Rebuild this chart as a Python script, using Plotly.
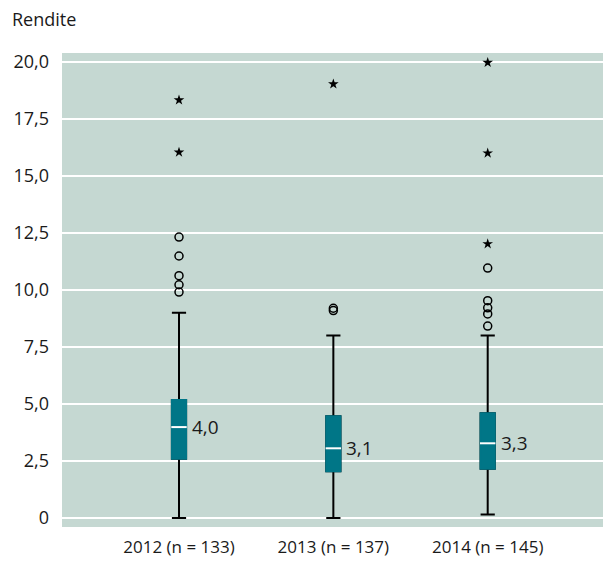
import plotly.graph_objects as go

categories = ["2012 (n = 133)", "2013 (n = 137)", "2014 (n = 145)"]
q1 = [2.60, 2.05, 2.16]
median = [3.99, 3.06, 3.28]
q3 = [5.18, 4.47, 4.60]
lower_whisker = [0.0, 0.0, 0.16]
upper_whisker = [9.0, 8.0, 8.0]

outliers = {
    "2012 (n = 133)": [12.32, 11.49, 10.63, 10.23, 9.91],
    "2013 (n = 137)": [9.10, 9.20],
    "2014 (n = 145)": [10.96, 9.53, 9.22, 8.95, 8.42],
}
extremes = {
    "2012 (n = 133)": [18.33, 16.04],
    "2013 (n = 137)": [19.03],
    "2014 (n = 145)": [19.97, 16.00, 12.02],
}

y_tickvals = [0, 2.5, 5, 7.5, 10, 12.5, 15, 17.5, 20]
y_ticktext = ["0", "2,5", "5,0", "7,5", "10,0", "12,5", "15,0", "17,5", "20,0"]

TEAL = "#007687"
BG = "#c5d8d2"
FONT = "Open Sans, sans-serif"

fig = go.Figure()

# whiskers (black) + box
fig.add_trace(go.Box(
    x=categories, q1=q1, median=median, q3=q3,
    lowerfence=lower_whisker, upperfence=upper_whisker,
    boxpoints=False, width=0.092, whiskerwidth=1,
    fillcolor=TEAL, line=dict(color="black", width=2),
    hoverinfo="skip", showlegend=False,
))
# teal box body covering black outline
fig.add_trace(go.Box(
    x=categories, q1=q1, median=median, q3=q3,
    lowerfence=q1, upperfence=q3,
    boxpoints=False, width=0.092, whiskerwidth=1,
    fillcolor=TEAL, line=dict(color=TEAL, width=2),
    hoverinfo="skip", showlegend=False,
))
# white median line
fig.add_trace(go.Scatter(
    x=categories, y=median, mode="markers",
    marker=dict(symbol="line-ew", size=11, line=dict(color="white", width=2)),
    hoverinfo="skip", showlegend=False,
))

ox, oy, ex, ey = [], [], [], []
for c in categories:
    for v in outliers[c]:
        ox.append(c); oy.append(v)
    for v in extremes[c]:
        ex.append(c); ey.append(v)

fig.add_trace(go.Scatter(
    x=ox, y=oy, mode="markers",
    marker=dict(symbol="circle-open", size=8, color="black", line=dict(width=1.5)),
    showlegend=False,
))
fig.add_trace(go.Scatter(
    x=ex, y=ey, mode="markers",
    marker=dict(symbol="star", size=8, color="black", line=dict(width=0)),
    showlegend=False,
))

for c, m in zip(categories, median):
    fig.add_annotation(
        x=c, y=m, text=f"{m:.1f}".replace(".", ","),
        xanchor="left", yanchor="middle", xshift=11, showarrow=False,
        font=dict(size=19, color="#1a1a1a", family=FONT),
    )

fig.update_layout(
    width=603, height=563,
    margin=dict(l=62, r=0, t=53, b=36),
    plot_bgcolor=BG, paper_bgcolor="white",
    font=dict(family=FONT, size=17, color="#1a1a1a"),
    boxmode="overlay",
    title=dict(text="Rendite", xref="container", yref="container",
               x=12 / 603, xanchor="left", y=1 - 20 / 563, yanchor="middle",
               font=dict(size=18, family=FONT, color="#1a1a1a")),
    xaxis=dict(type="category", range=[-0.758, 2.747], showgrid=False,
               zeroline=False, showline=False, ticks="",
               ticklabelstandoff=8, tickfont=dict(size=17)),
    yaxis=dict(range=[-0.39, 20.39], tickvals=y_tickvals, ticktext=y_ticktext,
               showgrid=True, gridcolor="white", gridwidth=1.5,
               zeroline=True, zerolinecolor="white", zerolinewidth=1.5,
               showline=False, ticks="", ticklabelstandoff=12,
               tickfont=dict(size=18)),
)

fig.write_html("out.html", config={"displayModeBar": False},
               post_script="document.body.style.margin='0';document.body.style.overflow='hidden';")
